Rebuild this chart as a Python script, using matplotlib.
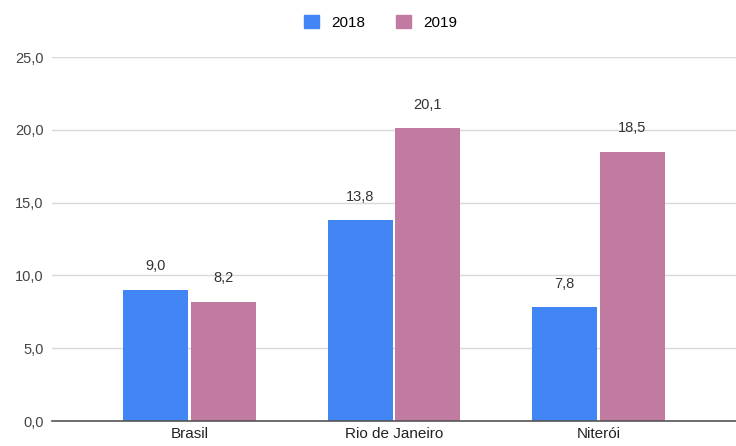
import numpy as np
import matplotlib.pyplot as plt
from matplotlib.patches import Patch

categories = ["Brasil", "Rio de Janeiro", "Niterói"]
series_names = ["2018", "2019"]
values_2018 = [9.0, 13.8, 7.8]
values_2019 = [8.2, 20.1, 18.5]
y_ticks = [0, 5, 10, 15, 20, 25]

colors = ["#4285F4", "#C27BA0"]

plt.rcParams["font.family"] = ["Liberation Sans", "DejaVu Sans"]

fig = plt.figure(figsize=(7.36, 4.46), dpi=100)
ax = fig.add_axes([0.0707, 0.056, 0.9293, 0.816])

x = np.arange(len(categories))
width = 0.318
gap = 0.014

for i, (vals, name) in enumerate(zip([values_2018, values_2019], series_names)):
    pos = x + (i - 0.5) * (width + gap)
    bars = ax.bar(pos, vals, width=width, color=colors[i], zorder=3, label=name)
    for xp, v in zip(pos, vals):
        ax.annotate(f"{v:.1f}".replace(".", ","), (xp, v),
                    xytext=(0, 17), textcoords="offset points",
                    ha="center", va="center", fontsize=10.5, color="#333333")

ax.set_xlim(-0.673, 2.673)
ax.set_ylim(0, 25)
ax.set_yticks(y_ticks)
ax.set_yticklabels([f"{t:.1f}".replace(".", ",") for t in y_ticks],
                   fontsize=10.5, color="#444444")
ax.set_xticks(x)
ax.set_xticklabels(categories, fontsize=11, color="#222222")
ax.tick_params(axis="both", length=0)
ax.tick_params(axis="y", pad=6)
ax.tick_params(axis="x", pad=4)

ax.grid(axis="y", color="#d9d9d9", linewidth=1, zorder=0)
for s in ["top", "right", "left"]:
    ax.spines[s].set_visible(False)
ax.spines["bottom"].set_color("#555555")
ax.spines["bottom"].set_linewidth(1.2)
ax.spines["bottom"].set_zorder(4)

handles = [Patch(color=c, label=n) for c, n in zip(colors, series_names)]
fig.legend(handles=handles, loc="center", bbox_to_anchor=(0.517, 0.95), ncol=2,
           frameon=False, fontsize=11, handlelength=1.0, handleheight=1.0,
           columnspacing=2.0, handletextpad=0.8)

fig.savefig("out.png", dpi=100)
